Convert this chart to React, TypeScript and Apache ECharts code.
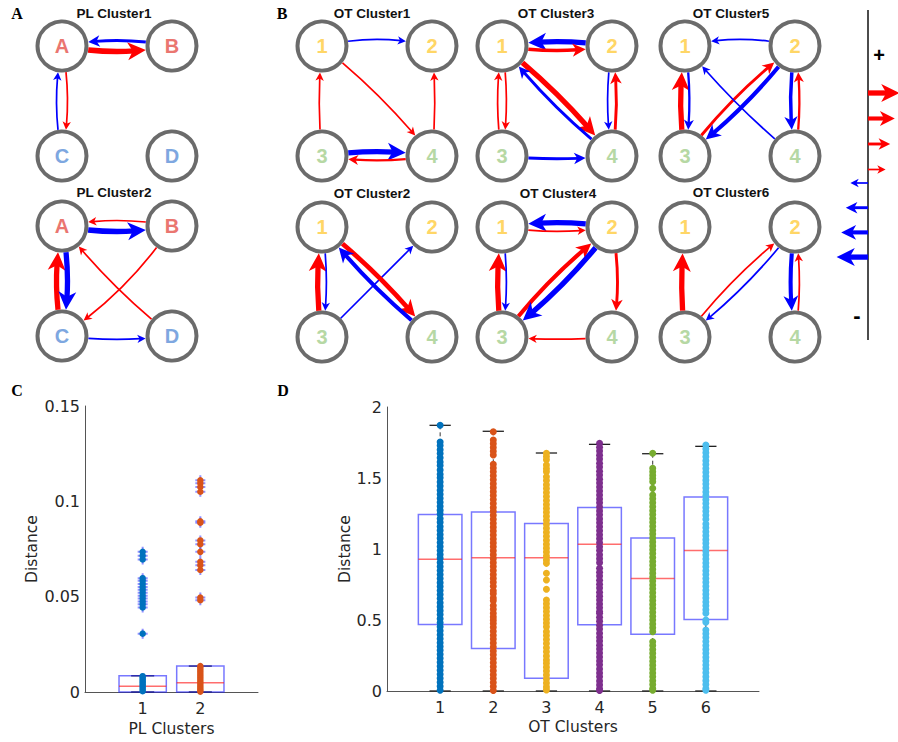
import React, { useEffect, useRef } from "react";
import * as echarts from "echarts";

// ================= DATA =================
const plNodeNames = ["A", "B", "C", "D"];
const otNodeNames = ["1", "2", "3", "4"];

type Edge = [string, string, number]; // from, to, signed strength (+ red, - blue)

const plCluster1Edges: Edge[] = [["A", "B", 4], ["B", "A", -2], ["A", "C", 1], ["C", "A", -1]];
const plCluster2Edges: Edge[] = [["A", "B", -4], ["B", "A", 1], ["C", "A", 4], ["A", "C", -4], ["B", "C", 1], ["D", "A", 1], ["C", "D", -1]];
const ot1Edges: Edge[] = [["1", "2", -1], ["1", "4", 1], ["3", "1", 1], ["4", "2", 1], ["3", "4", -4], ["4", "3", 1.5]];
const ot2Edges: Edge[] = [["3", "1", 4], ["1", "3", -1], ["3", "2", -1], ["1", "4", 3.5], ["4", "1", -3]];
const ot3Edges: Edge[] = [["2", "1", -4], ["1", "2", 2.5], ["1", "4", 4], ["4", "1", -2], ["3", "1", 1], ["1", "3", 1], ["2", "4", -1], ["4", "2", 2], ["3", "4", -2]];
const ot4Edges: Edge[] = [["2", "1", -4], ["1", "2", 1], ["3", "1", 4], ["1", "3", -1], ["3", "2", 3], ["2", "3", -4], ["2", "4", 2], ["4", "3", 1]];
const ot5Edges: Edge[] = [["2", "1", -1], ["3", "1", 4], ["1", "3", -1.5], ["3", "2", 2], ["2", "3", -3], ["4", "1", -1], ["2", "4", -2.5], ["4", "2", 1.5]];
const ot6Edges: Edge[] = [["3", "1", 4], ["3", "2", 1], ["2", "3", -1], ["2", "4", -3], ["4", "2", 1]];

const legendLevels = [4, 3, 2, 1, -1, -2, -3, -4];

// Panel C: PL clusters
const plClusterTicks = [1, 2];
// [min, q1, median, q3, max]
const plBoxStats = [
  [0, 0, 0.003, 0.0085, 0.0085],
  [0, 0, 0.0049, 0.0136, 0.0136],
];
const plCluster1Distances = [
  0.0735, 0.0715, 0.0695, 0.0597, 0.0583, 0.0567, 0.0551, 0.0536, 0.0521, 0.0505, 0.049, 0.0474, 0.046, 0.0443, 0.0306,
  0.0083, 0.0075, 0.0066, 0.0057, 0.0048, 0.0039, 0.0031, 0.0022, 0.0013, 0.0004,
];
const plCluster2Distances = [
  0.111, 0.1095, 0.1075, 0.105, 0.0895, 0.0888, 0.0795, 0.0775, 0.0735, 0.0683, 0.0665, 0.064, 0.0495, 0.0481,
  0.0136, 0.0127, 0.0117, 0.0106, 0.0095, 0.0084, 0.0073, 0.0062, 0.0051, 0.0041, 0.003, 0.002, 0.001, 0.0002,
];

// Panel D: OT clusters
const otClusterTicks = [1, 2, 3, 4, 5, 6];
const otBoxStats = [
  [0, 0.469, 0.928, 1.243, 1.871],
  [0, 0.3, 0.938, 1.261, 1.829],
  [0, 0.089, 0.938, 1.179, 1.676],
  [0, 0.467, 1.034, 1.292, 1.737],
  [0, 0.399, 0.792, 1.078, 1.671],
  [0, 0.504, 0.989, 1.367, 1.723],
];
const ot1Distances = [
  1.871, 1.754, 1.728, 1.699, 1.672, 1.643, 1.613, 1.588, 1.556, 1.527, 1.501, 1.472, 1.444, 1.413, 1.386, 1.358, 1.329,
  1.301, 1.272, 1.246, 1.215, 1.188, 1.159, 1.131, 1.102, 1.075, 1.046, 1.018, 0.989, 0.961, 0.934, 0.905, 0.877, 0.848,
  0.82, 0.792, 0.763, 0.736, 0.707, 0.679, 0.651, 0.622, 0.594, 0.566, 0.538, 0.509, 0.481, 0.453, 0.424, 0.396, 0.368,
  0.34, 0.313, 0.287, 0.258, 0.231, 0.202, 0.174, 0.146, 0.118, 0.089, 0.061, 0.033, 0.005,
];
const ot2Distances = [
  1.826, 1.768, 1.742, 1.715, 1.688, 1.662, 1.597, 1.571, 1.544, 1.515, 1.488, 1.46, 1.432, 1.404, 1.376, 1.349, 1.321,
  1.292, 1.265, 1.238, 1.209, 1.181, 1.154, 1.126, 1.098, 1.07, 1.043, 1.015, 0.987, 0.959, 0.932, 0.904, 0.876, 0.849,
  0.821, 0.793, 0.766, 0.738, 0.706, 0.684, 0.655, 0.636, 0.602, 0.575, 0.548, 0.522, 0.499, 0.476, 0.449, 0.421, 0.393,
  0.366, 0.338, 0.31, 0.282, 0.255, 0.227, 0.199, 0.171, 0.143, 0.115, 0.088, 0.06, 0.032, 0.004,
];
const ot3Distances = [
  1.674, 1.651, 1.628, 1.591, 1.566, 1.544, 1.509, 1.482, 1.453, 1.426, 1.398, 1.37, 1.341, 1.314, 1.286, 1.258, 1.23,
  1.202, 1.174, 1.146, 1.118, 1.09, 1.062, 1.034, 1.006, 0.978, 0.95, 0.923, 0.899, 0.829, 0.782, 0.716, 0.641, 0.614,
  0.587, 0.559, 0.532, 0.505, 0.479, 0.453, 0.418, 0.39, 0.362, 0.334, 0.305, 0.276, 0.247, 0.218, 0.195, 0.168, 0.14,
  0.112, 0.084, 0.056, 0.029, 0.007,
];
const ot4Distances = [
  1.744, 1.716, 1.69, 1.661, 1.633, 1.604, 1.577, 1.548, 1.521, 1.492, 1.465, 1.436, 1.409, 1.38, 1.352, 1.325, 1.296,
  1.268, 1.241, 1.212, 1.184, 1.157, 1.128, 1.1, 1.073, 1.044, 1.016, 0.989, 0.96, 0.932, 0.904, 0.864, 0.836, 0.809,
  0.78, 0.752, 0.725, 0.696, 0.668, 0.641, 0.613, 0.586, 0.559, 0.547, 0.519, 0.492, 0.463, 0.436, 0.407, 0.379, 0.352,
  0.323, 0.295, 0.268, 0.239, 0.211, 0.184, 0.155, 0.127, 0.1, 0.071, 0.043, 0.016, 0.004,
];
const ot5Distances = [
  1.674, 1.568, 1.544, 1.52, 1.497, 1.474, 1.427, 1.38, 1.353, 1.326, 1.298, 1.27, 1.243, 1.215, 1.188, 1.16, 1.132,
  1.105, 1.078, 1.05, 1.022, 0.995, 0.968, 0.94, 0.912, 0.885, 0.857, 0.83, 0.802, 0.775, 0.747, 0.72, 0.692, 0.664,
  0.637, 0.61, 0.582, 0.555, 0.527, 0.5, 0.472, 0.445, 0.418, 0.347, 0.32, 0.292, 0.265, 0.237, 0.21, 0.182, 0.155,
  0.127, 0.1, 0.072, 0.045, 0.018, 0.006,
];
const ot6Distances = [
  1.732, 1.705, 1.677, 1.65, 1.622, 1.595, 1.567, 1.54, 1.512, 1.485, 1.457, 1.43, 1.402, 1.375, 1.347, 1.32, 1.292,
  1.265, 1.237, 1.21, 1.176, 1.149, 1.121, 1.094, 1.066, 1.04, 1.012, 0.985, 0.957, 0.93, 0.902, 0.875, 0.847, 0.82,
  0.792, 0.765, 0.737, 0.71, 0.682, 0.655, 0.627, 0.6, 0.572, 0.547, 0.5, 0.484, 0.43, 0.403, 0.376, 0.348, 0.321, 0.293,
  0.266, 0.238, 0.211, 0.183, 0.156, 0.128, 0.101, 0.073, 0.046, 0.018, 0.005,
];
const otDistances = [ot1Distances, ot2Distances, ot3Distances, ot4Distances, ot5Distances, ot6Distances];

// ================= STYLE / LAYOUT =================
const W = 898;
const H = 742;
const NODE_R = 26.5;
const NODE_OFFSETS = [[0, 0], [110, 0], [0, 110], [110, 110]];
// curve bends (positive = bow to the right of travel direction)
const plCluster1Bends = [0.1, 0.1, -0.1, -0.1];
const plCluster2Bends = [0.1, 0.1, -0.1, -0.1, -0.1, -0.06, 0.06];
const ot1Bends = [-0.12, -0.06, -0.05, 0.05, -0.08, -0.08];
const ot2Bends = [-0.08, -0.08, 0, -0.06, -0.06];
const ot3Bends = [0.08, 0.08, -0.06, -0.06, -0.08, -0.08, 0.08, 0.08, 0.05];
const ot4Bends = [0.08, 0.08, -0.08, -0.08, -0.07, -0.07, -0.1, -0.04];
const ot5Bends = [0.12, -0.08, -0.08, -0.07, -0.07, -0.05, 0.08, 0.08];
const ot6Bends = [-0.06, -0.07, -0.07, 0.08, 0.08];

const panels = [
  { title: "PL Cluster1", names: plNodeNames, edges: plCluster1Edges, bends: plCluster1Bends, origin: [62, 46], titleAt: [114, 13] },
  { title: "PL Cluster2", names: plNodeNames, edges: plCluster2Edges, bends: plCluster2Bends, origin: [62, 226], titleAt: [114, 192] },
  { title: "OT Cluster1", names: otNodeNames, edges: ot1Edges, bends: ot1Bends, origin: [322, 46], titleAt: [372, 13] },
  { title: "OT Cluster2", names: otNodeNames, edges: ot2Edges, bends: ot2Bends, origin: [322, 227], titleAt: [372, 193] },
  { title: "OT Cluster3", names: otNodeNames, edges: ot3Edges, bends: ot3Bends, origin: [502, 46], titleAt: [556, 13] },
  { title: "OT Cluster4", names: otNodeNames, edges: ot4Edges, bends: ot4Bends, origin: [502, 227], titleAt: [558, 193] },
  { title: "OT Cluster5", names: otNodeNames, edges: ot5Edges, bends: ot5Bends, origin: [685, 46], titleAt: [731, 13] },
  { title: "OT Cluster6", names: otNodeNames, edges: ot6Edges, bends: ot6Bends, origin: [685, 227], titleAt: [731, 192] },
];

const NODE_LABEL_COLORS: Record<string, string> = {
  A: "#ea7670", B: "#ea7670", C: "#7ea7e0", D: "#7ea7e0",
  "1": "#ffd666", "2": "#ffd666", "3": "#b6d8a4", "4": "#b6d8a4",
};
const OT_COLORS = ["#0072BD", "#D95319", "#EDB120", "#7E2F8E", "#77AC30", "#4DBEEE"];
const PL_COLORS = ["#0072BD", "#D95319"];
const TEXT_COLOR = "#262626";
const AXIS_FONT = "DejaVu Sans";

const LEGEND_X = 868;

function edgeStyle(level: number) {
  const a = Math.abs(level);
  return {
    color: level > 0 ? "#ff0000" : "#0000ff",
    width: 0.5 + 1.2 * a,
    headLen: 5 + 3.3 * a,
    headHalf: 2.6 + 1.6 * a,
  };
}

function renderArrow(_params: any, api: any) {
  const p0 = api.coord([api.value(0), api.value(1)]);
  const p2 = api.coord([api.value(2), api.value(3)]);
  const level = Number(api.value(4));
  const bend = Number(api.value(5));
  const r0 = Number(api.value(6));
  const r1 = Number(api.value(7));
  const dx = p2[0] - p0[0];
  const dy = p2[1] - p0[1];
  const c = [(p0[0] + p2[0]) / 2 - dy * bend, (p0[1] + p2[1]) / 2 + dx * bend];
  const B = (t: number) => {
    const u = 1 - t;
    return [u * u * p0[0] + 2 * u * t * c[0] + t * t * p2[0], u * u * p0[1] + 2 * u * t * c[1] + t * t * p2[1]];
  };
  const dist = (a: number[], b: number[]) => Math.hypot(a[0] - b[0], a[1] - b[1]);
  const tFromStart = (r: number) => {
    if (r <= 0) return 0;
    let lo = 0, hi = 1;
    for (let i = 0; i < 40; i++) {
      const m = (lo + hi) / 2;
      if (dist(B(m), p0) < r) lo = m; else hi = m;
    }
    return (lo + hi) / 2;
  };
  const tFromEnd = (r: number) => {
    if (r <= 0) return 1;
    let lo = 0, hi = 1;
    for (let i = 0; i < 40; i++) {
      const m = (lo + hi) / 2;
      if (dist(B(m), p2) > r) lo = m; else hi = m;
    }
    return (lo + hi) / 2;
  };
  const st = edgeStyle(level);
  const ta = tFromStart(r0);
  const tTip = tFromEnd(r1);
  const tb = tFromEnd(r1 + st.headLen * 0.6);
  const tBack = tFromEnd(r1 + st.headLen);
  const s = B(ta);
  const e = B(tb);
  const q = [
    p0[0] * (1 - ta) * (1 - tb) + c[0] * ((1 - ta) * tb + ta * (1 - tb)) + p2[0] * ta * tb,
    p0[1] * (1 - ta) * (1 - tb) + c[1] * ((1 - ta) * tb + ta * (1 - tb)) + p2[1] * ta * tb,
  ];
  const tip = B(tTip);
  const back = B(tBack);
  let ux = tip[0] - back[0];
  let uy = tip[1] - back[1];
  const ul = Math.hypot(ux, uy) || 1;
  ux /= ul;
  uy /= ul;
  const px = -uy, py = ux;
  const bx = tip[0] - ux * st.headLen;
  const by = tip[1] - uy * st.headLen;
  const nx = tip[0] - ux * st.headLen * 0.72;
  const ny = tip[1] - uy * st.headLen * 0.72;
  return {
    type: "group",
    children: [
      {
        type: "bezierCurve",
        shape: { x1: s[0], y1: s[1], x2: e[0], y2: e[1], cpx1: q[0], cpy1: q[1] },
        style: { stroke: st.color, lineWidth: st.width, fill: "none" },
      },
      {
        type: "polygon",
        shape: {
          points: [
            [tip[0], tip[1]],
            [bx + px * st.headHalf, by + py * st.headHalf],
            [nx, ny],
            [bx - px * st.headHalf, by - py * st.headHalf],
          ],
        },
        style: { fill: st.color, stroke: "none" },
      },
    ],
  };
}

function renderBox(_params: any, api: any) {
  const x = Number(api.value(0));
  const lo = api.value(1), q1 = api.value(2), med = api.value(3), q3 = api.value(4), hi = api.value(5);
  const hw = 0.41, cw = 0.2;
  const a = api.coord([x - hw, q3]);
  const b = api.coord([x + hw, q1]);
  const m1 = api.coord([x - hw, med]);
  const m2 = api.coord([x + hw, med]);
  const top = api.coord([x, hi]);
  const q3p = api.coord([x, q3]);
  const q1p = api.coord([x, q1]);
  const bot = api.coord([x, lo]);
  const cTL = api.coord([x - cw, hi]);
  const cTR = api.coord([x + cw, hi]);
  const cBL = api.coord([x - cw, lo]);
  const cBR = api.coord([x + cw, lo]);
  const whisker = { stroke: "#333", lineWidth: 1, lineDash: [4, 3] };
  const cap = { stroke: "#222", lineWidth: 1.3 };
  return {
    type: "group",
    children: [
      { type: "line", shape: { x1: top[0], y1: top[1], x2: q3p[0], y2: q3p[1] }, style: whisker },
      { type: "line", shape: { x1: bot[0], y1: bot[1], x2: q1p[0], y2: q1p[1] }, style: whisker },
      { type: "line", shape: { x1: cTL[0], y1: cTL[1], x2: cTR[0], y2: cTR[1] }, style: cap },
      { type: "line", shape: { x1: cBL[0], y1: cBL[1], x2: cBR[0], y2: cBR[1] }, style: cap },
      {
        type: "rect",
        shape: { x: a[0], y: a[1], width: b[0] - a[0], height: b[1] - a[1] },
        style: { fill: "none", stroke: "rgba(30,30,255,0.6)", lineWidth: 1.5 },
      },
      {
        type: "line",
        shape: { x1: m1[0], y1: m1[1], x2: m2[0], y2: m2[1] },
        style: { stroke: "rgba(255,30,30,0.65)", lineWidth: 1.5 },
      },
    ],
  };
}

function buildOption() {
  const series: any[] = [];
  const graphic: any[] = [];

  panels.forEach((p) => {
    const pos: Record<string, number[]> = {};
    p.names.forEach((n, i) => {
      pos[n] = [p.origin[0] + NODE_OFFSETS[i][0], p.origin[1] + NODE_OFFSETS[i][1]];
    });
    series.push({
      type: "scatter",
      xAxisIndex: 0,
      yAxisIndex: 0,
      z: 2,
      silent: true,
      symbol: "circle",
      symbolSize: 49,
      itemStyle: { color: "#ffffff", borderColor: "#6b6b6b", borderWidth: 4, opacity: 1 },
      label: {
        show: true,
        position: "inside",
        formatter: (d: any) => d.name,
        fontSize: 20,
        fontWeight: "bold",
        fontFamily: "Liberation Sans",
      },
      data: p.names.map((n) => ({ name: n, value: pos[n], label: { color: NODE_LABEL_COLORS[n] } })),
    });
    series.push({
      type: "custom",
      xAxisIndex: 0,
      yAxisIndex: 0,
      z: 3,
      silent: true,
      clip: false,
      renderItem: renderArrow,
      encode: { x: [0, 2], y: [1, 3] },
      data: p.edges.map((e, i) => [pos[e[0]][0], pos[e[0]][1], pos[e[1]][0], pos[e[1]][1], e[2], p.bends[i], NODE_R, NODE_R]),
    });
    graphic.push({
      type: "text",
      x: p.titleAt[0],
      y: p.titleAt[1],
      style: { text: p.title, fill: "#111", font: 'bold 13.5px "Liberation Sans"', align: "center", verticalAlign: "middle" },
    });
  });

  // scale legend arrows
  const legendData = legendLevels.map((lv, i) => {
    const a = Math.abs(lv);
    const y = lv > 0 ? 93 + i * 25.5 : 183 + (i - 4) * 24.7;
    const len = 13 + 4.6 * a;
    return [LEGEND_X, y, LEGEND_X + (lv > 0 ? len : -len), y, lv, 0, 0, 0];
  });
  series.push({
    type: "custom",
    xAxisIndex: 0,
    yAxisIndex: 0,
    z: 3,
    silent: true,
    clip: false,
    renderItem: renderArrow,
    encode: { x: [0, 2], y: [1, 3] },
    data: legendData,
  });

  // panel C
  series.push({
    type: "custom",
    xAxisIndex: 1,
    yAxisIndex: 1,
    z: 2,
    silent: true,
    renderItem: renderBox,
    encode: { x: 0, y: [1, 5] },
    data: plBoxStats.map((s, i) => [plClusterTicks[i], ...s]),
  });
  [plCluster1Distances, plCluster2Distances].forEach((vals, i) => {
    const hi = plBoxStats[i][4];
    series.push({
      type: "scatter",
      xAxisIndex: 1,
      yAxisIndex: 1,
      z: 3,
      silent: true,
      symbol: "path://M4,0H6V4H10V6H6V10H4V6H0V4H4Z",
      symbolSize: 10,
      itemStyle: { color: "rgba(70,70,255,0.75)" },
      data: vals.filter((v) => v > hi).map((v) => [plClusterTicks[i], v]),
    });
    series.push({
      type: "scatter",
      xAxisIndex: 1,
      yAxisIndex: 1,
      z: 4,
      silent: true,
      symbolSize: 6.5,
      itemStyle: { color: PL_COLORS[i], opacity: 1 },
      data: vals.map((v) => [plClusterTicks[i], v]),
    });
  });

  // panel D
  series.push({
    type: "custom",
    xAxisIndex: 2,
    yAxisIndex: 2,
    z: 2,
    silent: true,
    renderItem: renderBox,
    encode: { x: 0, y: [1, 5] },
    data: otBoxStats.map((s, i) => [otClusterTicks[i], ...s]),
  });
  otDistances.forEach((vals, i) => {
    series.push({
      type: "scatter",
      xAxisIndex: 2,
      yAxisIndex: 2,
      z: 3,
      silent: true,
      symbolSize: 7,
      itemStyle: { color: OT_COLORS[i], opacity: 1 },
      data: vals.map((v) => [otClusterTicks[i], v]),
    });
  });

  // panel letters and scale legend decorations
  const letters = [["A", 17, 13], ["B", 282, 13], ["C", 17, 390], ["D", 283, 390]];
  letters.forEach(([t, x, y]) => {
    graphic.push({
      type: "text",
      x,
      y,
      style: { text: t, fill: "#000", font: 'bold 16px "Liberation Serif"', align: "center", verticalAlign: "middle" },
    });
  });
  graphic.push({
    type: "line",
    shape: { x1: LEGEND_X, y1: 10, x2: LEGEND_X, y2: 340 },
    style: { stroke: "#111", lineWidth: 1.5 },
  });
  graphic.push({
    type: "text", x: 879, y: 55,
    style: { text: "+", fill: "#000", font: 'bold 20px "Liberation Sans"', align: "center", verticalAlign: "middle" },
  });
  graphic.push({
    type: "text", x: 857, y: 315,
    style: { text: "-", fill: "#000", font: 'bold 22px "Liberation Sans"', align: "center", verticalAlign: "middle" },
  });

  const axisLabel = (keep: number[]) => ({
    formatter: (v: number) => (keep.indexOf(v) >= 0 ? String(v) : ""),
    color: TEXT_COLOR,
    fontSize: 16,
    fontFamily: AXIS_FONT,
    margin: 8,
  });
  const nameStyle = { color: TEXT_COLOR, fontSize: 15.5, fontFamily: AXIS_FONT };
  const axisLine = { show: true, lineStyle: { color: "#555", width: 1 } };

  return {
    animation: false,
    backgroundColor: "#ffffff",
    grid: [
      { left: 0, top: 0, width: W, height: H },
      { left: 85, top: 406, width: 173, height: 286 },
      { left: 387, top: 407, width: 372, height: 284 },
    ],
    xAxis: [
      { gridIndex: 0, type: "value", min: 0, max: W, show: false },
      {
        gridIndex: 1, type: "value", min: 0, max: 3, interval: 1,
        axisLine, axisTick: { show: false }, splitLine: { show: false },
        axisLabel: axisLabel(plClusterTicks),
        name: "PL Clusters", nameLocation: "middle", nameGap: 29, nameTextStyle: nameStyle,
      },
      {
        gridIndex: 2, type: "value", min: 0, max: 7, interval: 1,
        axisLine, axisTick: { show: false }, splitLine: { show: false },
        axisLabel: axisLabel(otClusterTicks),
        name: "OT Clusters", nameLocation: "middle", nameGap: 28, nameTextStyle: nameStyle,
      },
    ],
    yAxis: [
      { gridIndex: 0, type: "value", min: 0, max: H, inverse: true, show: false },
      {
        gridIndex: 1, type: "value", min: 0, max: 0.15, interval: 0.05,
        axisLine, axisTick: { show: false }, splitLine: { show: false },
        axisLabel: { color: TEXT_COLOR, fontSize: 16, fontFamily: AXIS_FONT, margin: 5 },
        name: "Distance", nameLocation: "middle", nameGap: 42, nameTextStyle: nameStyle,
      },
      {
        gridIndex: 2, type: "value", min: 0, max: 2, interval: 0.5,
        axisLine, axisTick: { show: false }, splitLine: { show: false },
        axisLabel: { color: TEXT_COLOR, fontSize: 16, fontFamily: AXIS_FONT, margin: 5 },
        name: "Distance", nameLocation: "middle", nameGap: 32, nameTextStyle: nameStyle,
      },
    ],
    graphic,
    series,
  };
}

export default function App() {
  const ref = useRef<HTMLDivElement>(null);
  useEffect(() => {
    document.body.style.margin = "0";
    document.body.style.overflow = "hidden";
    if (!ref.current) return;
    const chart = echarts.init(ref.current, undefined, { renderer: "svg" });
    chart.setOption(buildOption() as any);
    return () => chart.dispose();
  }, []);
  return <div ref={ref} style={{ width: W, height: H }} />;
}
